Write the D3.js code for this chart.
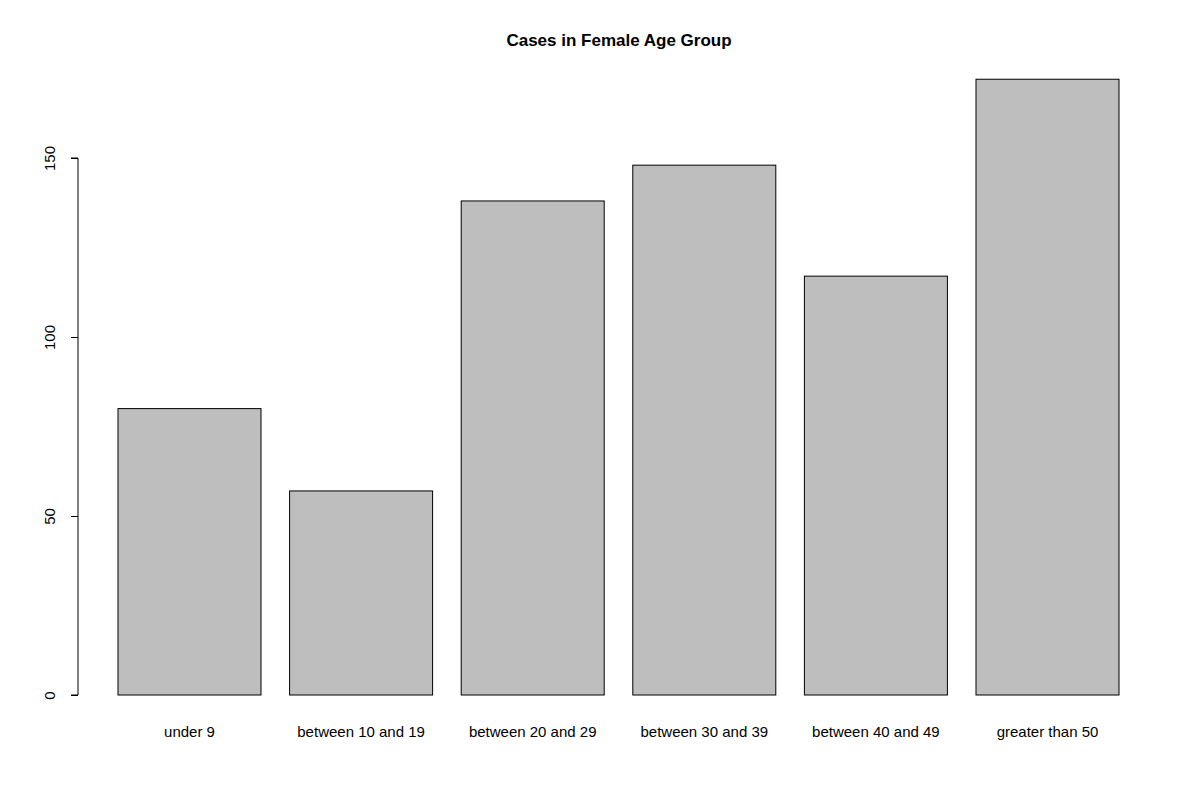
<!DOCTYPE html>
<html><head><meta charset="utf-8">
<script src="https://cdn.jsdelivr.net/npm/d3@7"></script>
<style>body{margin:0;background:#fff}text{font-family:"Liberation Sans",Arial,sans-serif}</style>
</head><body>
<svg id="c" width="1200" height="800"></svg>
<script>
const categories = ["under 9","between 10 and 19","between 20 and 29","between 30 and 39","between 40 and 49","greater than 50"];
const values = [80, 57, 138, 148, 117, 172];
const yTicks = [0, 50, 100, 150];
const title = "Cases in Female Age Group";

const svg = d3.select("#c");
// R barplot units: bar i spans [0.2+1.2i, 1.2+1.2i] in width-units
const x = d3.scaleLinear().domain([0.2, 8.6]).range([118, 1119 + 1001/7*1.2 - 1001/7*1.2]);
const xs = d3.scaleLinear().domain([0.2, 7.2]).range([118, 1119]);
const y = d3.scaleLinear().domain([0, 150]).range([695, 158]);

svg.append("text").attr("x", 619).attr("y", 46).attr("text-anchor","middle")
  .attr("font-weight","bold").attr("font-size", 17).text(title);

svg.selectAll("rect.bar").data(values).join("rect").attr("class","bar")
  .attr("x", (d,i)=>xs(0.2+1.2*i)).attr("width", xs(1)-xs(0))
  .attr("y", d=>y(d)).attr("height", d=>y(0)-y(d))
  .attr("fill","#bebebe").attr("stroke","#000").attr("stroke-width",1);

svg.selectAll("text.cat").data(categories).join("text").attr("class","cat")
  .attr("x",(d,i)=>xs(0.7+1.2*i)).attr("y",737).attr("text-anchor","middle")
  .attr("font-size",15).text(d=>d);

const ax = svg.append("g").attr("transform","translate(78,0)")
  .call(d3.axisLeft(y).tickValues(yTicks).tickSize(7).tickFormat(d3.format("d")));
ax.select(".domain").attr("d", `M-7,${y(0)}H0V${y(150)}H-7`).attr("stroke","#000");
ax.selectAll(".tick line").attr("stroke","#000");
ax.selectAll(".tick text").attr("font-size",15).attr("fill","#000")
  .attr("font-family","Liberation Sans, Arial, sans-serif")
  .attr("transform","rotate(-90)").attr("x",0).attr("y",-23)
  .attr("text-anchor","middle").attr("dy","0");
</script>
</body></html>
